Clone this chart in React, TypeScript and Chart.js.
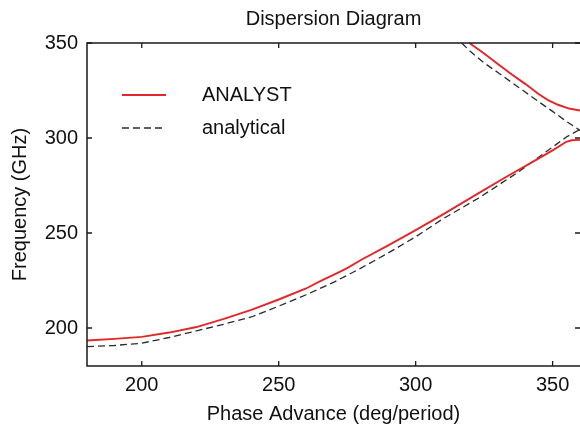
import { useEffect, useRef } from "react";
import { Chart, registerables } from "chart.js";

Chart.register(...registerables);

const chartTitle = "Dispersion Diagram";
const xAxisTitle = "Phase Advance (deg/period)";
const yAxisTitle = "Frequency (GHz)";
const xTickValues = [200, 250, 300, 350];
const yTickValues = [200, 250, 300, 350];

const analystLowerPhase = [180, 190, 200, 210, 220, 230, 240, 250, 260, 265, 270, 275, 280, 290, 300, 310, 323, 333, 344, 350, 355, 357, 360];
const analystLowerFreq = [193.4, 194.3, 195.3, 197.6, 200.5, 204.8, 209.5, 215, 220.8, 224.5, 228, 231.5, 235.8, 243.5, 251.5, 259.8, 271, 279.5, 288.5, 293.5, 298, 298.8, 299];

const analystUpperPhase = [319.6, 325, 330, 335, 340, 345, 348.5, 352, 356, 360];
const analystUpperFreq = [350, 344.5, 339, 333.5, 328.5, 323, 319.8, 317.5, 315.5, 314.5];

const analyticalLowerPhase = [180, 190, 200, 210, 220, 230, 240, 250, 260, 270, 280, 290, 300, 310, 323, 337, 345, 355, 360];
const analyticalLowerFreq = [190.2, 190.8, 192, 195, 198.5, 202, 205.8, 211.5, 217.5, 224, 231.5, 239.5, 248, 257.5, 268.4, 281.6, 290, 300.5, 304.5];

const analyticalUpperPhase = [316.8, 320, 325, 330, 335, 340, 345, 350, 355, 360];
const analyticalUpperFreq = [350, 345.5, 339.5, 334.5, 329.3, 324.2, 319, 314, 308.8, 304];

const legendLabels = ["ANALYST", "analytical"];

const RED = "#e3262a";
const DARK = "#2a2a2a";
const FONT = "'Liberation Sans', Arial, Helvetica, sans-serif";

function pts(xs: number[], ys: number[]) {
  return xs.map((x, i) => ({ x, y: ys[i] }));
}

const framePlugin = {
  id: "frameTicks",
  afterDatasetsDraw(chart: any) {
    const { ctx, chartArea } = chart;
    const { left, right, top, bottom } = chartArea;
    const xs = chart.scales.x;
    const ys = chart.scales.y;
    ctx.save();
    ctx.strokeStyle = "#1a1a1a";
    ctx.lineWidth = 1.5;
    ctx.beginPath();
    ctx.moveTo(right + 2, top);
    ctx.lineTo(left, top);
    ctx.lineTo(left, bottom);
    ctx.lineTo(right + 2, bottom);
    ctx.stroke();
    const tl = 5;
    ctx.lineWidth = 1.3;
    ctx.beginPath();
    xs.ticks.forEach((t: any) => {
      const px = xs.getPixelForValue(t.value);
      ctx.moveTo(px, bottom);
      ctx.lineTo(px, bottom - tl);
      ctx.moveTo(px, top);
      ctx.lineTo(px, top + tl);
    });
    ys.ticks.forEach((t: any) => {
      const py = ys.getPixelForValue(t.value);
      ctx.moveTo(left, py);
      ctx.lineTo(left + tl, py);
      ctx.moveTo(right, py);
      ctx.lineTo(right - tl, py);
    });
    ctx.stroke();
    ctx.restore();
  },
};

const legendPlugin = {
  id: "insideLegend",
  afterDraw(chart: any) {
    const { ctx, chartArea } = chart;
    const sources = [chart.data.datasets[0], chart.data.datasets[2]];
    ctx.save();
    ctx.font = `20px ${FONT}`;
    ctx.textBaseline = "middle";
    ctx.textAlign = "left";
    sources.forEach((ds: any, i: number) => {
      const y = chartArea.top + 52 + i * 33;
      const x0 = chartArea.left + 35;
      ctx.strokeStyle = ds.borderColor;
      ctx.lineWidth = ds.borderWidth;
      ctx.setLineDash(ds.borderDash || []);
      ctx.beginPath();
      ctx.moveTo(x0, y);
      ctx.lineTo(x0 + 44, y);
      ctx.stroke();
      ctx.setLineDash([]);
      ctx.fillStyle = "#111";
      ctx.fillText(legendLabels[i], chartArea.left + 115, y);
    });
    ctx.restore();
  },
};

export default function App() {
  const ref = useRef<HTMLCanvasElement | null>(null);
  useEffect(() => {
    if (!ref.current) return;
    const redLine = { borderColor: RED, borderWidth: 1.9, pointRadius: 0, showLine: true, fill: false, tension: 0 };
    const dashLine = { borderColor: DARK, borderWidth: 1.3, borderDash: [7, 4], pointRadius: 0, showLine: true, fill: false, tension: 0 };
    const chart = new Chart(ref.current, {
      type: "scatter",
      data: {
        datasets: [
          { label: "ANALYST", data: pts(analystLowerPhase, analystLowerFreq), ...redLine },
          { label: "ANALYST upper", data: pts(analystUpperPhase, analystUpperFreq), ...redLine },
          { label: "analytical", data: pts(analyticalLowerPhase, analyticalLowerFreq), ...dashLine },
          { label: "analytical upper", data: pts(analyticalUpperPhase, analyticalUpperFreq), ...dashLine },
        ] as any,
      },
      options: {
        animation: false,
        responsive: false,
        devicePixelRatio: 1,
        layout: { padding: 0 },
        font: { family: FONT },
        plugins: {
          legend: { display: false },
          tooltip: { enabled: false },
          title: {
            display: true,
            text: chartTitle,
            fullSize: false,
            color: "#111",
            font: { family: FONT, size: 20, weight: "normal" },
            padding: { top: 7, bottom: 12 },
          },
        },
        scales: {
          x: {
            type: "linear",
            min: 180,
            max: 360,
            grid: { display: false, drawTicks: false, tickLength: 0 },
            border: { display: false },
            afterBuildTicks: (s: any) => {
              s.ticks = xTickValues.map((v) => ({ value: v }));
            },
            afterFit: (s: any) => {
              s.height = 62;
            },
            ticks: { color: "#111", padding: 7, font: { family: FONT, size: 20 }, maxRotation: 0 },
            title: {
              display: true,
              text: xAxisTitle,
              color: "#111",
              font: { family: FONT, size: 20 },
              padding: { top: 0, bottom: 2 },
            },
          },
          y: {
            type: "linear",
            min: 180,
            max: 350,
            grid: { display: false, drawTicks: false, tickLength: 0 },
            border: { display: false },
            afterBuildTicks: (s: any) => {
              s.ticks = yTickValues.map((v) => ({ value: v }));
            },
            afterFit: (s: any) => {
              s.width = 87;
            },
            ticks: { color: "#111", padding: 9, font: { family: FONT, size: 20 } },
            title: {
              display: true,
              text: yAxisTitle,
              color: "#111",
              font: { family: FONT, size: 20 },
              padding: { top: 8, bottom: 0 },
            },
          },
        },
      } as any,
      plugins: [framePlugin, legendPlugin],
    });
    return () => chart.destroy();
  }, []);
  return (
    <div style={{ position: "absolute", left: 0, top: 0, width: 580, height: 428, overflow: "hidden", background: "#fff" }}>
      <canvas ref={ref} width={580} height={428} style={{ display: "block", width: 580, height: 428 }} />
    </div>
  );
}
